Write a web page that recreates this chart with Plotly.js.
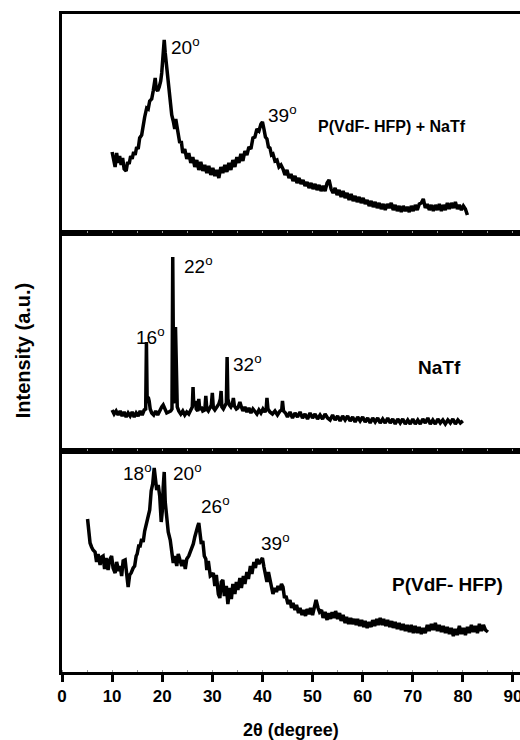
<!DOCTYPE html>
<html>
<head>
<meta charset="utf-8">
<script src="https://cdn.plot.ly/plotly-3.0.1.min.js"></script>
<style>html,body{margin:0;padding:0;background:#fff;}#chart{width:520px;height:740px;}</style>
</head>
<body>
<div id="chart"></div>
<script>
// ---- P(VdF-HFP) + NaTf (top panel) ----
const topX = [10.0,10.3,10.6,10.9,11.2,11.5,11.8,12.1,12.4,12.8,13.1,13.4,13.7,14.0,14.3,14.6,14.9,15.2,15.5,15.9,16.2,16.5,16.9,17.2,17.5,17.9,18.2,18.4,18.6,18.8,19.1,19.4,19.7,19.9,20.1,20.4,20.6,20.9,21.2,21.4,21.6,21.9,22.2,22.5,22.7,22.9,23.2,23.5,23.8,24.1,24.5,24.9,25.3,25.7,26.1,26.5,26.9,27.3,27.7,28.1,28.5,28.9,29.3,29.7,30.1,30.5,30.9,31.3,31.7,32.1,32.5,32.9,33.3,33.7,34.1,34.5,34.9,35.3,35.7,36.1,36.5,36.9,37.3,37.7,38.1,38.5,38.9,39.3,39.7,40.0,40.3,40.6,40.9,41.2,41.5,41.8,42.1,42.5,42.9,43.3,43.7,44.1,44.5,44.9,45.3,45.7,46.1,46.5,46.9,47.3,47.7,48.1,48.5,48.9,49.3,49.7,50.1,50.5,50.9,51.3,51.7,52.1,52.5,52.9,53.3,53.7,54.1,54.5,54.9,55.3,55.7,56.1,56.5,56.9,57.3,57.7,58.1,58.5,58.9,59.3,59.7,60.1,60.5,60.9,61.3,61.7,62.1,62.5,62.9,63.3,63.7,64.1,64.5,64.9,65.3,65.7,66.1,66.5,66.9,67.3,67.7,68.1,68.5,68.9,69.3,69.7,70.1,70.5,70.9,71.3,71.7,72.1,72.5,72.9,73.3,73.7,74.1,74.5,74.9,75.3,75.7,76.1,76.5,76.9,77.3,77.7,78.1,78.5,78.9,79.3,79.7,80.1,80.5,80.9];
const topY = [81,72,66,80,70,77,68,75,64,62,71,69,77,74,81,78,86,84,95,98,110,116,125,124,132,134,142,148,155,144,142,146,152,160,175,193,180,166,150,140,136,118,112,104,114,108,100,90,92,80,84,74,80,70,76,66,73,63,71,62,68,60,67,58,65,57,63,55,66,60,68,61,70,63,73,66,76,70,79,72,82,78,86,84,95,96,104,102,109,111,104,96,94,86,85,78,79,72,73,66,68,64,58,63,55,59,52,57,50,55,49,53,47,51,45,50,44,49,43,48,42,47,42,50,53,44,40,45,38,43,36,42,35,40,33,39,32,37,31,36,30,35,29,33,27,32,26,31,25,30,24,29,23,29,25,30,23,28,22,27,21,27,22,26,21,27,22,28,23,29,30,34,25,29,23,28,22,28,23,29,22,28,23,30,24,30,25,31,24,28,23,27,24,18];

// ---- NaTf (middle panel) ----
const midX = [10.0,10.4,10.8,11.2,11.6,12.0,12.4,12.8,13.2,13.6,14.0,14.4,14.8,15.2,15.6,16.0,16.4,16.7,16.85,17.0,17.2,17.4,17.6,17.9,18.3,18.7,19.1,19.5,19.9,20.2,20.5,20.9,21.3,21.7,21.95,22.1,22.3,22.5,22.65,22.8,23.0,23.3,23.7,24.1,24.5,24.9,25.3,25.7,26.0,26.15,26.3,26.6,26.8,27.1,27.3,27.5,27.8,28.1,28.5,28.7,28.9,29.2,29.5,29.8,30.0,30.2,30.5,30.9,31.3,31.6,31.75,31.9,32.2,32.5,32.8,32.95,33.1,33.4,33.7,34.0,34.2,34.4,34.8,35.1,35.5,35.8,36.1,36.5,36.9,37.3,37.7,38.1,38.5,38.9,39.3,39.7,40.1,40.5,40.75,40.9,41.1,41.5,42.0,42.5,43.0,43.5,43.85,44.0,44.2,44.6,45.0,45.5,46.0,46.5,47.0,47.5,48.0,48.5,49.0,49.5,50.0,50.5,51.0,51.5,52.0,52.5,53.0,53.5,54.0,54.5,55.0,55.5,56.0,56.5,57.0,57.5,58.0,58.5,59.0,59.5,60.0,60.5,61.0,61.5,62.0,62.5,63.0,63.5,64.0,64.5,65.0,65.5,66.0,66.5,67.0,67.5,68.0,68.5,69.0,69.5,70.0,70.5,71.0,71.5,72.0,72.5,73.0,73.5,74.0,74.5,75.0,75.5,76.0,76.5,77.0,77.5,78.0,78.5,79.0,79.5,80.0];
const midY = [41,37,40,36,40,35,39,34,38,35,39,34,38,35,40,36,41,42,109,48,54,50,42,38,36,40,36,41,44,46,42,38,39,40,42,194,50,48,124,60,44,40,37,40,36,39,37,41,44,64,45,50,42,40,52,41,44,40,41,55,42,40,44,46,58,43,41,44,47,52,60,44,42,45,48,94,52,46,44,47,53,45,42,43,49,44,40,44,39,43,38,42,39,37,41,38,42,39,42,53,42,39,37,40,36,40,41,50,40,38,34,39,33,38,34,39,33,37,32,38,33,37,32,36,32,37,33,31,36,31,35,30,35,31,35,30,34,29,34,30,34,29,33,28,33,29,33,28,32,28,33,28,32,27,32,28,32,27,31,27,32,27,31,27,32,28,33,27,31,27,32,28,31,27,31,28,32,27,31,28,30];

// ---- P(VdF-HFP) (bottom panel) ----
const botX = [5.1,5.3,5.6,5.9,6.2,6.6,6.9,7.2,7.6,7.9,8.2,8.5,8.8,9.2,9.5,9.9,10.2,10.6,10.9,11.3,11.6,11.9,12.2,12.6,12.9,13.2,13.5,13.8,14.2,14.5,14.8,15.0,15.3,15.6,15.9,16.2,16.5,16.9,17.2,17.5,17.8,18.1,18.4,18.6,18.9,19.2,19.5,19.8,20.0,20.2,20.4,20.6,20.9,21.2,21.6,21.9,22.2,22.5,22.9,23.2,23.6,23.9,24.3,24.6,24.9,25.3,25.6,25.9,26.2,26.5,26.8,27.1,27.3,27.5,27.8,28.1,28.4,28.7,28.9,29.2,29.6,29.9,30.2,30.5,30.8,31.2,31.5,31.8,32.1,32.4,32.8,33.1,33.5,33.8,34.1,34.5,34.8,35.1,35.5,35.8,36.2,36.5,36.9,37.2,37.6,37.9,38.3,38.6,38.9,39.3,39.7,40.0,40.3,40.6,40.9,41.2,41.5,41.8,42.1,42.5,42.8,43.1,43.5,43.8,44.1,44.4,44.7,45.1,45.5,45.8,46.1,46.5,46.8,47.2,47.5,47.9,48.2,48.6,48.9,49.3,49.6,50.0,50.4,50.7,51.1,51.4,51.8,52.1,52.5,52.9,53.2,53.6,53.9,54.3,54.6,55.0,55.4,55.7,56.1,56.5,56.8,57.2,57.6,57.9,58.3,58.7,59.0,59.4,59.8,60.2,60.5,60.9,61.3,61.7,62.0,62.4,62.8,63.1,63.5,63.9,64.2,64.6,65.0,65.4,65.8,66.1,66.5,66.9,67.3,67.7,68.1,68.5,68.9,69.3,69.7,70.1,70.5,70.9,71.3,71.7,72.1,72.5,72.9,73.3,73.7,74.1,74.5,74.9,75.3,75.7,76.1,76.5,76.9,77.3,77.7,78.1,78.5,78.9,79.3,79.7,80.1,80.5,80.9,81.3,81.7,82.1,82.5,82.9,83.3,83.7,84.1,84.5,85.0];
const botY = [153,140,129,125,122,120,110,118,107,115,116,103,114,102,112,116,104,99,110,101,106,96,111,112,96,85,97,99,104,106,116,118,126,126,133,130,141,150,159,162,181,188,204,195,182,187,176,150,160,185,200,170,152,140,132,116,109,116,106,118,110,106,112,103,113,116,120,124,128,135,142,146,149,140,128,131,116,113,102,111,96,97,99,86,97,78,74,90,92,76,86,68,84,73,88,78,90,82,94,84,96,88,100,93,106,98,110,104,113,108,112,114,105,96,90,100,92,84,78,84,80,86,82,88,85,74,76,68,72,64,69,62,67,59,64,57,62,56,63,58,64,57,66,72,64,60,62,54,60,52,59,53,60,54,61,53,59,51,57,49,55,48,54,48,53,47,53,46,52,45,51,44,50,45,52,46,53,47,54,47,53,46,52,45,51,44,50,43,49,42,48,41,47,40,47,39,46,39,45,38,44,39,47,41,48,42,49,41,47,40,46,39,45,38,44,36,43,37,46,38,44,37,45,39,47,40,46,39,48,41,47,42,40];

const xTickVals = [0,10,20,30,40,50,60,70,80,90];
const xTickText = ['0','10','20','30','40','50','60','70','80','90'];

const FONT = 'Liberation Sans, Arial, sans-serif';
const lineStyle = {color: '#000', width: 3.5};

const traces = [
  {x: botX, y: botY, xaxis: 'x', yaxis: 'y', type: 'scatter', mode: 'lines', line: lineStyle, hoverinfo: 'skip'},
  {x: midX, y: midY, xaxis: 'x2', yaxis: 'y2', type: 'scatter', mode: 'lines', line: lineStyle, hoverinfo: 'skip'},
  {x: topX, y: topY, xaxis: 'x3', yaxis: 'y3', type: 'scatter', mode: 'lines', line: lineStyle, hoverinfo: 'skip'}
];

const XR = [0, 91.4];
const d1 = 0.3359, d2 = 0.6672;

const hiddenX = (anchor) => ({
  anchor: anchor, matches: 'x', range: XR, showline: true, mirror: true,
  linecolor: '#000', linewidth: 3, showgrid: false, zeroline: false,
  showticklabels: false, ticks: 'inside', ticklen: 2, tickcolor: '#999', tickwidth: 1, dtick: 5, tick0: 0
});
const yax = (dom, rng) => ({
  domain: dom, range: rng, showline: true, linecolor: '#000', linewidth: 3,
  showgrid: false, zeroline: false, showticklabels: false, ticks: ''
});

const degFont = {family: FONT, size: 19, color: '#000'};
const ann = (xref, yref, x, y, text, font, xanchor) => ({
  xref: xref, yref: yref, x: x, y: y, text: text, showarrow: false,
  xanchor: xanchor || 'left', yanchor: 'middle', font: font
});
const boldFont = (s) => ({family: FONT, size: s, color: '#000', weight: 'bold'});

const layout = {
  width: 520, height: 740,
  margin: {l: 62, r: 0, t: 14, b: 68},
  paper_bgcolor: '#fff', plot_bgcolor: '#fff',
  showlegend: false,
  font: {family: FONT, color: '#000'},
  xaxis: {
    domain: [0, 1], range: XR, anchor: 'y',
    showline: true, mirror: true, linecolor: '#000', linewidth: 3,
    showgrid: false, zeroline: false,
    tickmode: 'array', tickvals: xTickVals, ticktext: xTickText,
    ticks: 'outside', ticklen: 7, tickwidth: 3, tickcolor: '#000',
    ticklabeloverflow: 'allow',
    minor: {dtick: 5, tick0: 0, ticks: 'inside', ticklen: 2, tickcolor: '#999', tickwidth: 1},
    tickfont: {family: FONT, size: 17, color: '#000', weight: 'bold'},
    title: {text: '2θ (degree)', font: {family: FONT, size: 18, color: '#000', weight: 'bold'}, standoff: 24}
  },
  xaxis2: hiddenX('y2'),
  xaxis3: hiddenX('y3'),
  yaxis: yax([0, d1], [0, 221]),
  yaxis2: yax([d1, d2], [0, 218]),
  yaxis3: yax([d2, 1], [0, 219]),
  annotations: [
    ann('x3', 'y3', 21.4, 187, '20<sup>o</sup>', degFont),
    ann('x3', 'y3', 40.7, 119, '39<sup>o</sup>', degFont),
    ann('x3', 'y3', 65.9, 106, 'P(VdF- HFP) + NaTf', boldFont(16), 'center'),
    ann('x2', 'y2', 24.0, 186, '22<sup>o</sup>', degFont),
    ann('x2', 'y2', 14.4, 115, '16<sup>o</sup>', degFont),
    ann('x2', 'y2', 33.7, 88, '32<sup>o</sup>', degFont),
    ann('x2', 'y2', 75.4, 83, 'NaTf', boldFont(19), 'center'),
    ann('x', 'y', 11.8, 200, '18<sup>o</sup>', degFont),
    ann('x', 'y', 21.8, 200, '20<sup>o</sup>', degFont),
    ann('x', 'y', 27.3, 167, '26<sup>o</sup>', degFont),
    ann('x', 'y', 39.3, 130, '39<sup>o</sup>', degFont),
    ann('x', 'y', 77.0, 87, 'P(VdF- HFP)', boldFont(19), 'center'),
    {xref: 'paper', yref: 'paper', x: -0.085, y: 0.489, text: 'Intensity (a.u.)', textangle: -90,
     showarrow: false, xanchor: 'center', yanchor: 'middle', font: boldFont(20)}
  ]
};

Plotly.newPlot('chart', traces, layout, {displayModeBar: false, staticPlot: true});
</script>
</body>
</html>
